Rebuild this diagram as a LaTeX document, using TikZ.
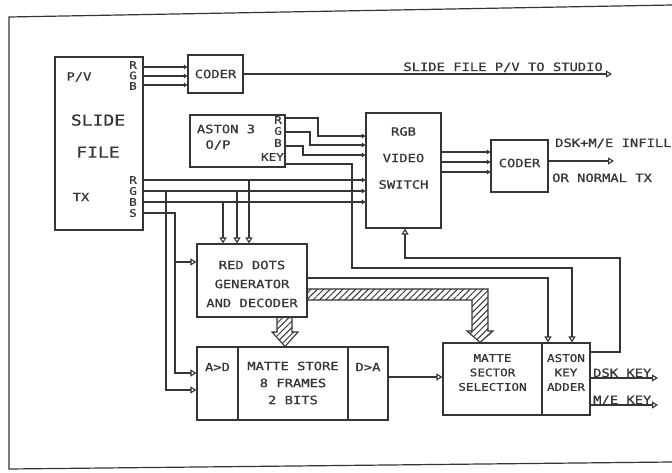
\documentclass[tikz,border=0pt]{standalone}
\usepackage{fontspec}
\setmainfont{DejaVu Sans Mono}[FakeStretch=1.2,FakeBold=0.8]
\usetikzlibrary{arrows.meta,patterns.meta}
\definecolor{ink}{HTML}{353535}
\begin{document}
\begin{tikzpicture}[x=1pt,y=-1pt,
  box/.style={draw=ink, line width=1.1pt, inner sep=0pt, text=ink, align=center,
    font=\fontsize{11.5}{19}\selectfont},
  txt/.style={text=ink, inner sep=0pt, align=center, font=\fontsize{11.5}{19}\selectfont},
  sml/.style={text=ink, inner sep=0pt, font=\fontsize{10.5}{10}\selectfont},
  wire/.style={draw=ink, line width=1.1pt},
  oarr/.style={wire, -{Triangle[open,length=6pt,width=7pt]}},
  darr/.style={wire, -{Triangle[length=3.5pt,width=4.5pt]}},
  hatch/.style={draw=ink, line width=1.1pt, pattern={Lines[angle=45,distance=4.5pt,line width=1pt]}, pattern color=ink}]
\useasboundingbox (0,0) rectangle (672,473);
\fill[white] (0,0) rectangle (672,473);
% outer frame
\draw[ink, line width=1.2pt] (672,5) -- (9,17) -- (9,469) -- (672,462);

% boxes
\node[box, minimum width=88pt, minimum height=173pt] (sf) at (99,143.5) {};
\node[box, minimum width=55pt, minimum height=38pt] (c1) at (215.5,74) {CODER};
\node[box, minimum width=95pt, minimum height=52pt] (as) at (237.5,141) {};
\node[box, minimum width=75pt, minimum height=115pt] (sw) at (403.5,170.5) {};
\node[box, minimum width=57pt, minimum height=52pt] (c2) at (519.5,166) {};
\node[box, minimum width=110pt, minimum height=73pt] (rd) at (252,280.5) {};
\node[box, minimum width=41pt, minimum height=73pt] (ad) at (217.5,383.5) {};
\node[box, minimum width=110pt, minimum height=73pt] (mst) at (293,383.5) {};
\node[box, minimum width=40pt, minimum height=73pt] (da) at (368,383.5) {};
\node[box, minimum width=99pt, minimum height=72pt] (mss) at (492.5,379) {};
\node[box, minimum width=48pt, minimum height=72pt] (ka) at (566,379) {};

% texts
\node[txt] (tpv) at (79,77) {P/V};
\node[txt, font=\fontsize{15}{32}\selectfont] (tsf) at (98,136) {SLIDE\\FILE};
\node[txt] (ttx) at (81,197) {TX};
\node[sml] (u1) at (133,65) {R};
\node[sml] (u2) at (133,75.5) {G};
\node[sml] (u3) at (133,86) {B};
\node[sml] (l1) at (133,180) {R};
\node[sml] (l2) at (133,191) {G};
\node[sml] (l3) at (133,202) {B};
\node[sml] (l4) at (133,213) {S};
\node[txt] (tas) at (226,129) {ASTON 3};
\node[txt] (top) at (218,145) {O/P};
\node[sml] (a1) at (278,120) {R};
\node[sml] (a2) at (278,131) {G};
\node[sml] (a3) at (278,143) {B};
\node[sml, anchor=east] (a4) at (284,157) {KEY};
\node[txt, font=\fontsize{11.5}{26.5}\selectfont] (tsw) at (403.5,158) {RGB\\VIDEO\\SWITCH};
\node[txt] (tc2) at (519.5,163) {CODER};
\node[txt] (trd) at (252,284) {RED DOTS\\GENERATOR\\AND DECODER};
\node[txt] (tad) at (217.5,367) {A>D};
\node[txt, font=\fontsize{11.5}{17}\selectfont] (tms) at (293,383) {MATTE STORE\\8 FRAMES\\2 BITS};
\node[txt] (tda) at (368,367) {D>A};
\node[txt, font=\fontsize{10.5}{14.5}\selectfont] (tss) at (492.5,372.5) {MATTE\\SECTOR\\SELECTION};
\node[txt, font=\fontsize{10.5}{14.5}\selectfont] (tka) at (566,372.5) {ASTON\\KEY\\ADDER};
\node[txt, anchor=base east] (lst) at (603,71) {SLIDE FILE P/V TO STUDIO};
\node[txt, anchor=base west] (ldm) at (555,147) {DSK+M/E INFILL};
\node[txt, anchor=base west] (lor) at (552,182) {OR NORMAL TX};
\node[txt, anchor=base west] (ldk) at (593,377) {DSK KEY};
\node[txt, anchor=base west] (lme) at (593,404) {M/E KEY};

% free ends
\coordinate (o1) at (612,74);
\coordinate (o2) at (614,161);
\coordinate (o3) at (658,378);
\coordinate (o4) at (658,405);

% slide file P/V to coder
\draw[darr] (sf.east |- 0,67) -- (c1.west |- 0,67);
\draw[darr] (sf.east |- 0,76) -- (c1.west |- 0,76);
\draw[darr] (sf.east |- 0,85) -- (c1.west |- 0,85);
\draw[oarr] (c1.east) -- (o1);

% aston RGB to switch
\draw[darr] (as.east |- 0,118) -- (318,118) -- (318,136) -- (sw.west |- 0,136);
\draw[darr] (as.east |- 0,132) -- (310,132) -- (310,145) -- (sw.west |- 0,145);
\draw[darr] (as.east |- 0,146) -- (303,146) -- (303,155) -- (sw.west |- 0,155);
% aston key to key adder
\draw[oarr] (as.east |- 0,164) -- (352,164) -- (352,268) -- (572,268) -- (ka.north -| 572,0);

% slide file TX to switch
\draw[darr] (sf.east |- 0,180) -- (sw.west |- 0,180);
\draw[darr] (sf.east |- 0,191) -- (sw.west |- 0,191);
\draw[darr] (sf.east |- 0,202) -- (sw.west |- 0,202);
% taps into red dots
\draw[oarr] (249,180) -- (rd.north -| 249,0);
\draw[oarr] (237,191) -- (rd.north -| 237,0);
\draw[oarr] (223,202) -- (rd.north -| 223,0);
% S line
\draw[oarr] (sf.east |- 0,213) -- (175,213) -- (175,373) -- (ad.west |- 0,373);
\draw[oarr] (175,262) -- (rd.west |- 0,262);
% G to A>D
\draw[oarr] (166,191) -- (166,390) -- (ad.west |- 0,390);

% red dots to key adder
\draw[oarr] (rd.east |- 0,278) -- (548,278) -- (ka.north -| 548,0);
% hatched buses
\draw[hatch] (rd.east |- 0,289) -- (488,289) -- (488,331) -- (493,331) -- (mss.north -| 480,0) -- (467,331) -- (472,331) -- (472,300) -- (rd.east |- 0,300) -- cycle;
\draw[hatch] (rd.south -| 277,0) -- (rd.south -| 292,0) -- (292,332) -- (298,332) -- (mst.north -| 285,0) -- (272,332) -- (277,332) -- cycle;

% D>A to matte sector
\draw[oarr] (da.east |- 0,377) -- (mss.west |- 0,377);
% key adder feedback to switch
\draw[oarr] (ka.east |- 0,352) -- (620,352) -- (620,258) -- (405,258) -- (sw.south -| 405,0);

% switch to coder 2
\draw[darr] (sw.east |- 0,152) -- (c2.west |- 0,152);
\draw[darr] (sw.east |- 0,162) -- (c2.west |- 0,162);
\draw[darr] (sw.east |- 0,172) -- (c2.west |- 0,172);
\draw[oarr] (c2.east |- 0,161) -- (o2);

% key outputs
\draw[oarr] (ka.east |- 0,378) -- (o3);
\draw[oarr] (ka.east |- 0,405) -- (o4);
\end{tikzpicture}
\end{document}
